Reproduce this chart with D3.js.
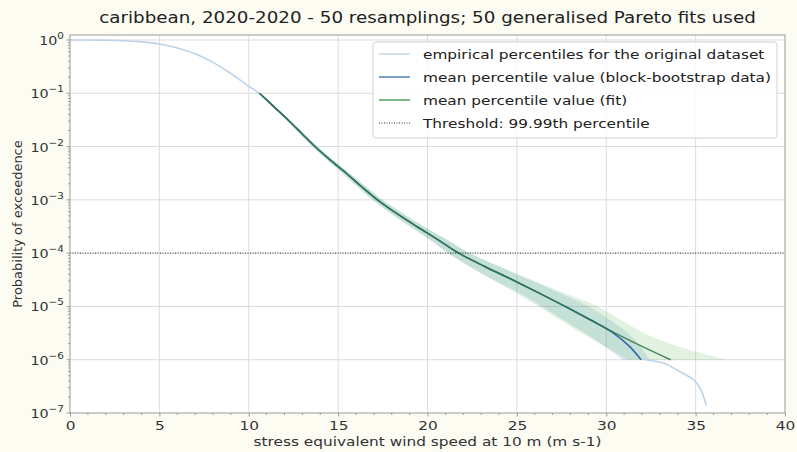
<!DOCTYPE html>
<html><head><meta charset="utf-8">
<script src="https://cdn.jsdelivr.net/npm/d3@7"></script>
<style>
body{margin:0;background:#fcfcf3;}
svg{display:block;font-family:"DejaVu Sans",sans-serif;}
</style></head>
<body><svg id="c" width="797" height="452"></svg>
<script>
// ---- data ----
const title = "caribbean, 2020-2020 - 50 resamplings; 50 generalised Pareto fits used";
const xLabel = "stress equivalent wind speed at 10 m (m s-1)";
const yLabel = "Probability of exceedence";
const xTicks = [0,5,10,15,20,25,30,35,40];
const yTickExp = [0,-1,-2,-3,-4,-5,-6,-7];
const threshold = 1e-4;

// probability levels for the percentile curves (1e-1 ... 1e-6)
const probLevels = [1e-1,5.62e-2,3.16e-2,1.78e-2,1e-2,5.62e-3,3.16e-3,1.78e-3,1e-3,5.62e-4,3.16e-4,1.78e-4,1e-4,5.62e-5,3.16e-5,1.78e-5,1e-5,5.62e-6,3.16e-6,1.78e-6,1e-6];
// mean percentile value (fit)
const fitMean = [10.6,11.4,12.2,12.95,13.7,14.55,15.45,16.3,17.2,18.25,19.4,20.6,21.75,23.2,24.75,26.25,27.7,29.1,30.5,32.0,33.6];
const fitLow  = [10.55,11.33,12.1,12.83,13.55,14.38,15.25,16.07,16.93,17.93,19.02,20.13,21.15,22.35,23.65,24.95,26.2,27.4,28.6,29.9,31.2];
const fitHigh = [10.65,11.47,12.3,13.08,13.85,14.72,15.65,16.55,17.47,18.6,19.8,21.1,22.35,24.05,25.85,27.65,29.5,30.8,32.1,34.0,36.7];
// mean percentile value (block-bootstrap data)
const bootMean = [10.6,11.4,12.2,12.95,13.7,14.55,15.45,16.3,17.2,18.25,19.4,20.6,21.75,23.2,24.75,26.25,27.7,29.1,30.4,31.3,31.95];
const bootLow  = [10.55,11.33,12.1,12.83,13.55,14.38,15.25,16.07,16.93,17.93,19.02,20.13,21.15,22.35,23.65,25.15,26.4,27.6,28.8,29.9,30.9];
const bootHigh = [10.65,11.47,12.3,13.08,13.85,14.72,15.65,16.55,17.47,18.6,19.8,21.1,22.35,24.0,25.7,27.4,29.0,30.2,31.2,31.9,32.4];
// empirical percentiles for the original dataset
const empWind = [0,1,2,3,4,5,6,7,8,9,10,10.6,12.2,13.7,15.45,17.2,19.4,21.75,24.75,27.7,29.1,30.4,31.3,31.9,32.6,33.2,34.1,34.9,35.3,35.6];
const empProb = [1.0,0.998,0.99,0.97,0.92,0.84,0.71,0.55,0.38,0.235,0.135,0.1,3.16e-2,1e-2,3.16e-3,1e-3,3.16e-4,1e-4,3.16e-5,1e-5,5.62e-6,3.16e-6,1.78e-6,1.07e-6,9.5e-7,8.7e-7,6.0e-7,4.2e-7,2.7e-7,1.4e-7];

const legendItems = [
  {label:"empirical percentiles for the original dataset", color:"#c3d7ea", dash:null},
  {label:"mean percentile value (block-bootstrap data)", color:"#4f82b8", dash:null},
  {label:"mean percentile value (fit)", color:"#55a063", dash:null},
  {label:"Threshold: 99.99th percentile", color:"#333", dash:"1,1.5"}
];

// ---- drawing ----
const SX = 1.18; // horizontal stretch of the reference's text
const svg = d3.select("#c");
const L=70,R=785,T=35,B=413;
const x = d3.scaleLinear().domain([0,40]).range([L,R]);
const y = d3.scaleLog().domain([1e-7,1.24]).range([B,T]);

function stext(parent, px, py, anchor, size, txt, fill){
  return parent.append("text").attr("transform",`translate(${px},${py}) scale(${SX},1)`)
    .attr("text-anchor",anchor).attr("font-size",size).attr("fill",fill||"#333").text(txt);
}

svg.append("rect").attr("x",L).attr("y",T).attr("width",R-L).attr("height",B-T).attr("fill","#fff");

// grid
const g = svg.append("g");
g.selectAll("line.vx").data(xTicks.slice(1,-1)).join("line")
  .attr("x1",d=>x(d)).attr("x2",d=>x(d)).attr("y1",T).attr("y2",B)
  .attr("stroke","#dcdcdc").attr("stroke-width",1);
g.selectAll("line.hy").data(yTickExp.slice(0,-1)).join("line")
  .attr("x1",L).attr("x2",R).attr("y1",d=>y(Math.pow(10,d))).attr("y2",d=>y(Math.pow(10,d)))
  .attr("stroke","#dcdcdc").attr("stroke-width",1);

// bands
const bandArea = (lo,hi)=> d3.area().curve(d3.curveCatmullRom)
  .y((d,i)=>y(probLevels[i])).x0((d,i)=>x(lo[i])).x1((d,i)=>x(hi[i]));
svg.append("path").attr("d",bandArea(bootLow,bootHigh)(probLevels))
  .attr("fill","#1f77b4").attr("fill-opacity",0.15);
svg.append("path").attr("d",bandArea(fitLow,fitHigh)(probLevels))
  .attr("fill","#2ca02c").attr("fill-opacity",0.14);

// empirical
const empLine = d3.line().curve(d3.curveCatmullRom).x((d,i)=>x(empWind[i])).y((d,i)=>y(empProb[i]));
svg.append("path").attr("d",empLine(empWind)).attr("fill","none")
  .attr("stroke","#bcd3e8").attr("stroke-width",1.6);

const pLine = arr => d3.line().curve(d3.curveCatmullRom).x((d,i)=>x(arr[i])).y((d,i)=>y(probLevels[i]))(probLevels);
svg.append("path").attr("d",pLine(bootMean)).attr("fill","none")
  .attr("stroke","#35689e").attr("stroke-width",1.5);
svg.append("path").attr("d",pLine(fitMean)).attr("fill","none")
  .attr("stroke","#2e7545").attr("stroke-width",1.5).attr("stroke-opacity",0.85);

// threshold
svg.append("line").attr("x1",L).attr("x2",R).attr("y1",y(threshold)).attr("y2",y(threshold))
  .attr("stroke","#333").attr("stroke-width",1).attr("stroke-dasharray","1,1.5");

// spines
svg.append("rect").attr("x",L).attr("y",T).attr("width",R-L).attr("height",B-T)
  .attr("fill","none").attr("stroke","#9a9a9a").attr("stroke-width",1);

// x axis
const xAxis = d3.axisBottom(x).tickValues(xTicks).tickSize(3.5).tickPadding(4).tickFormat(d3.format("d"));
const xa = svg.append("g").attr("transform",`translate(0,${B})`).call(xAxis);
xa.select(".domain").remove();
xa.selectAll("line").attr("stroke","#9a9a9a");
xa.selectAll("text").attr("font-size",13).attr("fill","#333").attr("font-family","DejaVu Sans")
  .attr("transform",`scale(${SX},1)`);
const xMinor = d3.range(0,41).filter(v=>v%5!==0);
svg.append("g").attr("transform",`translate(0,${B})`).selectAll("line").data(xMinor).join("line")
  .attr("x1",d=>x(d)).attr("x2",d=>x(d)).attr("y1",0).attr("y2",2).attr("stroke","#9a9a9a");

// y axis
const ya = svg.append("g");
ya.selectAll("line").data(yTickExp).join("line")
  .attr("x1",L-3.5).attr("x2",L).attr("y1",d=>y(Math.pow(10,d))).attr("y2",d=>y(Math.pow(10,d))).attr("stroke","#9a9a9a");
const yMinor=[];
for(let e=-7;e<0;e++) for(let k=2;k<10;k++) yMinor.push(k*Math.pow(10,e));
ya.selectAll("line.mn").data(yMinor).join("line").attr("class","mn")
  .attr("x1",L-2).attr("x2",L).attr("y1",d=>y(d)).attr("y2",d=>y(d)).attr("stroke","#9a9a9a");
yTickExp.forEach(d=>{
  const t = ya.append("text").attr("transform",`translate(${L-6},${y(Math.pow(10,d))+5}) scale(1.1,1)`)
    .attr("text-anchor","end").attr("font-size",13).attr("fill","#333");
  t.append("tspan").text("10");
  t.append("tspan").attr("dy",-6).attr("font-size",9.5).text(d===0?"0":"\u2212"+(-d));
});

// labels
stext(svg,(L+R)/2,23,"middle",15.5,title,"#222");
stext(svg,(L+R)/2,446,"middle",13,xLabel);
svg.append("text").attr("transform",`translate(22,${(T+B)/2}) rotate(-90)`).attr("text-anchor","middle")
  .attr("font-size",13).attr("fill","#333").text(yLabel);

// legend
const lg = svg.append("g");
lg.append("rect").attr("x",373).attr("y",42).attr("width",404).attr("height",96).attr("rx",3)
  .attr("fill","#fff").attr("fill-opacity",0.85).attr("stroke","#d0d0d0");
legendItems.forEach((it,i)=>{
  const cy = 54 + i*23;
  lg.append("line").attr("x1",379).attr("x2",410).attr("y1",cy).attr("y2",cy)
    .attr("stroke",it.color).attr("stroke-width",it.dash?1:1.5).attr("stroke-dasharray",it.dash);
  stext(lg,423,cy+4.5,"start",13,it.label,"#222");
});
</script></body></html>
